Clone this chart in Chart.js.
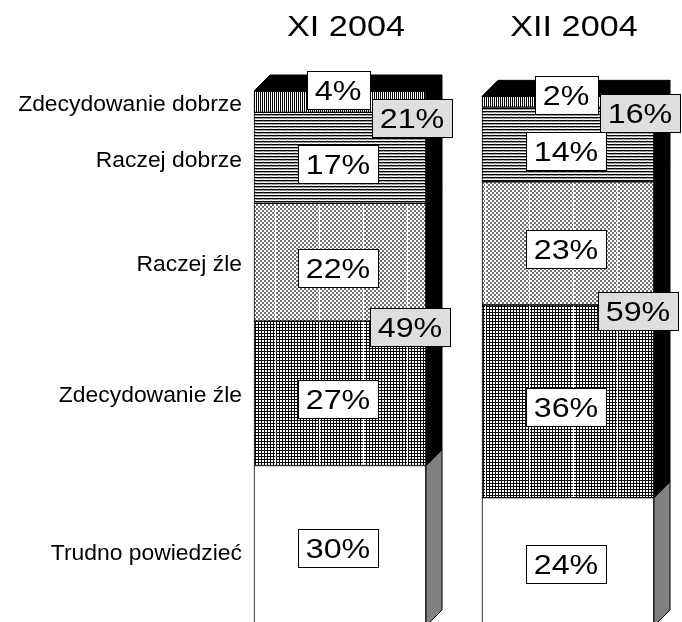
<!DOCTYPE html>
<html><head><meta charset="utf-8">
<script src="https://cdn.jsdelivr.net/npm/chart.js@4"></script>
<style>html,body{margin:0;padding:0;background:#fff;}canvas{display:block;}</style>
</head><body>
<canvas id="c" width="682" height="622"></canvas>
<script>
// ---- data ----
const periods = ['XI 2004', 'XII 2004'];
const categories = ['Trudno powiedzieć', 'Zdecydowanie źle', 'Raczej źle', 'Raczej dobrze', 'Zdecydowanie dobrze'];
const trudnoPowiedziec = [30, 24];
const zdecydowanieZle = [27, 36];
const raczejZle = [22, 23];
const raczejDobrze = [17, 14];
const zdecydowanieDobrze = [4, 2];
const seriesValues = [trudnoPowiedziec, zdecydowanieZle, raczejZle, raczejDobrze, zdecydowanieDobrze];
const sumDobrze = periods.map((_, i) => zdecydowanieDobrze[i] + raczejDobrze[i]);
const sumZle = periods.map((_, i) => raczejZle[i] + zdecydowanieZle[i]);

// ---- styling ----
const FONT = '"Liberation Sans", Arial, sans-serif';
const DEPTH = 16;
const canvas = document.getElementById('c');
const ctx0 = canvas.getContext('2d');

function tile(w, h, fn) {
  const c = document.createElement('canvas');
  c.width = w; c.height = h;
  const g = c.getContext('2d');
  const img = g.createImageData(w, h);
  for (let y = 0; y < h; y++) for (let x = 0; x < w; x++) {
    const v = fn(x, y); const k = (y * w + x) * 4;
    img.data[k] = img.data[k + 1] = img.data[k + 2] = v; img.data[k + 3] = 255;
  }
  g.putImageData(img, 0, 0);
  return ctx0.createPattern(c, 'repeat');
}
const lineOffsets = [11, 1];
const pZD = tile(2, 1, (x) => x % 2 === 0 ? 0 : 255);
const pRD = tile(8, 3, (x, y) => y === 0 ? 0 : (y === 1 ? (x === 7 ? 200 : 150) : (x === 7 ? 210 : 255)));
const pRZ = lineOffsets.map(off => tile(44, 4, (x, y) => x === off ? 255 : (((x >> 1) + (y >> 1)) % 2 === 0 ? 115 : 255)));
const pZZ = lineOffsets.map(off => tile(132, 3, (x, y) => (x % 44) === off ? 255 : ((x % 3 === 0 || y % 3 === 0) ? 0 : 255)));
const fills = [['#ffffff', '#ffffff'], pZZ, pRZ, [pRD, pRD], [pZD, pZD]];

function drawText(ctx, text, x, y, size, sx, align) {
  ctx.save();
  ctx.font = size + 'px ' + FONT;
  ctx.translate(x, y);
  ctx.scale(sx, 1);
  ctx.textAlign = align;
  ctx.textBaseline = 'alphabetic';
  ctx.fillStyle = '#000';
  ctx.fillText(text, 0, 0);
  ctx.restore();
}
function box(ctx, text, cx, cy, fill) {
  const size = 28, sx = 1.15;
  ctx.save();
  ctx.font = size + 'px ' + FONT;
  const w = Math.round(ctx.measureText(text).width * sx + 16), h = 38;
  const x = Math.round(cx - w / 2) + 0.5, y = Math.round(cy - h / 2) + 0.5;
  ctx.fillStyle = fill; ctx.fillRect(x, y, w, h);
  ctx.strokeStyle = '#000'; ctx.lineWidth = 1; ctx.strokeRect(x, y, w, h);
  ctx.restore();
  drawText(ctx, text, cx, cy + 10, size, sx, 'center');
}

const decor = {
  id: 'decor',
  afterDatasetsDraw(chart) {
    const ctx = chart.ctx;
    const metas = seriesValues.map((_, d) => chart.getDatasetMeta(d));
    ctx.save();
    ctx.lineWidth = 1; ctx.strokeStyle = '#000';
    periods.forEach((p, i) => {
      const topEl = metas[metas.length - 1].data[i];
      const left = topEl.x - topEl.width / 2, right = topEl.x + topEl.width / 2;
      const yTop = topEl.y;
      // top face
      ctx.beginPath();
      ctx.moveTo(left, yTop); ctx.lineTo(left + DEPTH, yTop - DEPTH);
      ctx.lineTo(right + DEPTH, yTop - DEPTH); ctx.lineTo(right, yTop); ctx.closePath();
      ctx.fillStyle = '#000'; ctx.fill(); ctx.stroke();
      // side faces
      metas.forEach((m, d) => {
        const el = m.data[i];
        ctx.beginPath();
        ctx.moveTo(right, el.y); ctx.lineTo(right + DEPTH, el.y - DEPTH);
        ctx.lineTo(right + DEPTH, el.base - DEPTH); ctx.lineTo(right, el.base); ctx.closePath();
        ctx.fillStyle = d === 0 ? '#808080' : '#000'; ctx.fill(); ctx.stroke();
      });
    });
    ctx.restore();
    // value labels
    periods.forEach((p, i) => {
      metas.forEach((m, d) => {
        const el = m.data[i];
        let cy;
        if (d === metas.length - 1) cy = el.y - 1;
        else if (d === 0) cy = (el.y + el.base) / 2 + 2;
        else cy = (el.y + el.base) / 2 + 6;
        box(ctx, seriesValues[d][i] + '%', el.x - 2, cy, '#ffffff');
      });
      const right = metas[0].data[i].x + metas[0].data[i].width / 2;
      box(ctx, sumDobrze[i] + '%', right - 14, metas[3].data[i].y + 6, '#dedede');
      box(ctx, sumZle[i] + '%', right - 16, metas[1].data[i].y + 6, '#dedede');
      drawText(ctx, p, metas[0].data[i].x + 6, 36, 30, 1.14, 'center');
    });
    // category labels
    metas.forEach((m, d) => {
      const el = m.data[0];
      const off = d === 0 ? 14 : 9;
      drawText(ctx, categories[d], 242, (el.y + el.base) / 2 + off, 22, 1.04, 'right');
    });
  }
};

new Chart(canvas, {
  type: 'bar',
  data: {
    labels: periods,
    datasets: seriesValues.map((vals, d) => ({
      label: categories[d],
      data: vals,
      backgroundColor: fills[d],
      borderColor: '#000',
      borderWidth: 1,
      borderSkipped: false,
      barThickness: 172,
      clip: false
    }))
  },
  options: {
    responsive: false,
    animation: false,
    devicePixelRatio: 1,
    layout: { padding: { left: 226, right: 0, top: 91, bottom: 0 } },
    plugins: { legend: { display: false }, tooltip: { enabled: false } },
    scales: {
      x: { stacked: true, display: false, offset: true },
      y: { stacked: true, display: false, min: 0.75, max: 100 }
    }
  },
  plugins: [decor]
});
</script>
</body></html>
